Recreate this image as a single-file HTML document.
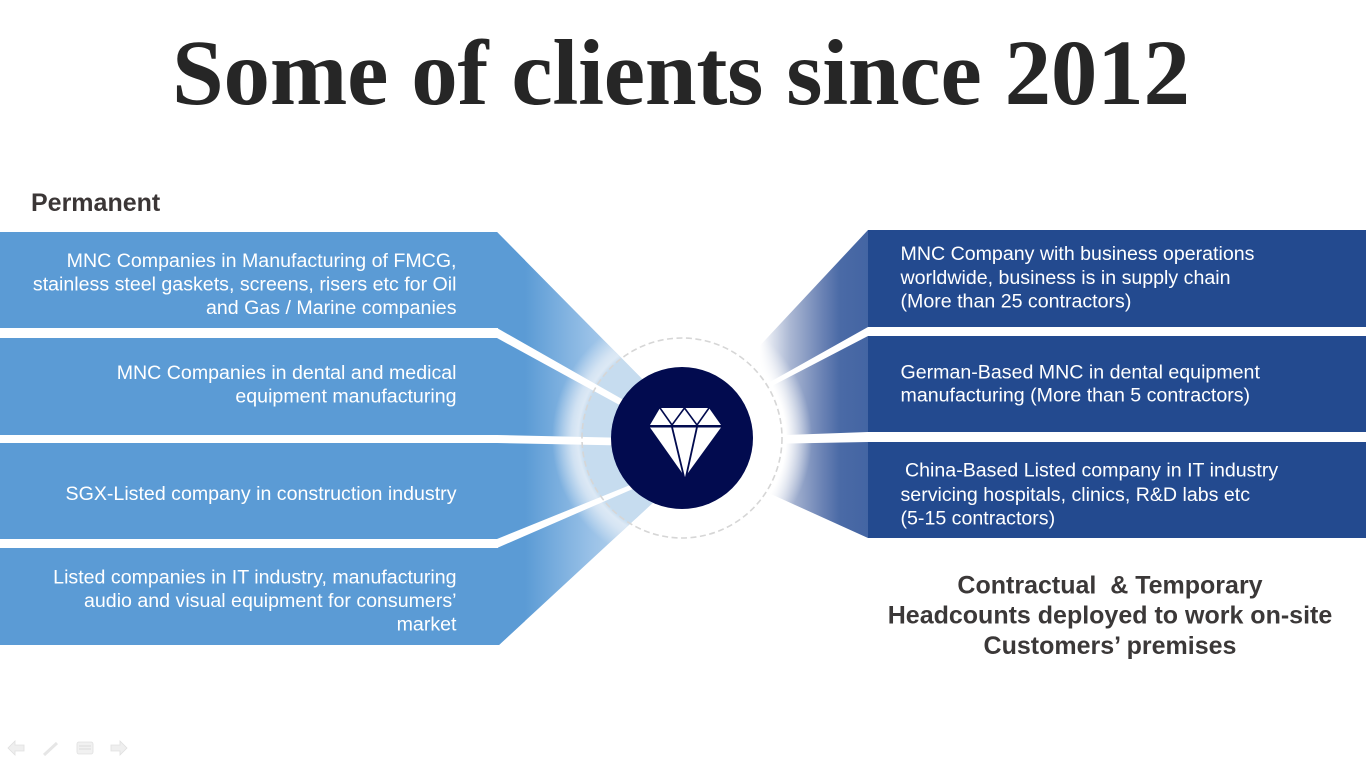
<!DOCTYPE html>
<html><head><meta charset="utf-8">
<style>
html,body{margin:0;padding:0;background:#fff;}
svg{display:block;}
</style></head><body>
<svg width="1366" height="768" viewBox="0 0 1366 768" xmlns="http://www.w3.org/2000/svg">
<defs>
 <linearGradient id="lg" gradientUnits="userSpaceOnUse" x1="525" y1="0" x2="645" y2="0">
   <stop offset="0" stop-color="#5b9bd5"/>
   <stop offset="0.55" stop-color="#99c1e7"/>
   <stop offset="1" stop-color="#c6dcef"/>
 </linearGradient>
 <linearGradient id="rg" gradientUnits="userSpaceOnUse" x1="760" y1="0" x2="868" y2="0">
   <stop offset="0" stop-color="#ffffff"/>
   <stop offset="0.28" stop-color="#aab7d3"/>
   <stop offset="0.58" stop-color="#6a82b4"/>
   <stop offset="0.74" stop-color="#4a6aa6"/>
   <stop offset="1" stop-color="#4465a3"/>
 </linearGradient>
 <radialGradient id="wg" gradientUnits="userSpaceOnUse" cx="682" cy="438" r="130">
   <stop offset="0" stop-color="#ffffff"/>
   <stop offset="0.8" stop-color="#ffffff"/>
   <stop offset="1" stop-color="#ffffff" stop-opacity="0"/>
 </radialGradient>
 <radialGradient id="bgl" gradientUnits="userSpaceOnUse" cx="682" cy="438" r="130">
   <stop offset="0" stop-color="#c6dcef"/>
   <stop offset="0.765" stop-color="#c6dcef"/>
   <stop offset="0.80" stop-color="#dde9f5"/>
   <stop offset="0.85" stop-color="#dde9f5" stop-opacity="0.85"/>
   <stop offset="1" stop-color="#dde9f5" stop-opacity="0"/>
 </radialGradient>
 <clipPath id="lc"><polygon points="0,232 497,232 660,397 690,438 670,487 499,645 0,645"/></clipPath>
</defs>

<rect width="1366" height="768" fill="#fff"/>

<!-- Title -->
<text x="172" y="104" font-family="'Liberation Serif', serif" font-weight="bold" font-size="93" fill="#262626" textLength="1018" lengthAdjust="spacing">Some of clients since 2012</text>

<!-- Permanent -->
<text x="31" y="211" font-family="'Liberation Sans', sans-serif" font-weight="bold" font-size="25" fill="#3b3636">Permanent</text>

<!-- Right fan -->
<polygon points="868,230 710,399 690,438 720,471 868,538" fill="url(#rg)"/>
<circle cx="682" cy="438" r="130" fill="url(#wg)"/>

<!-- Left fan + boxes -->
<polygon points="0,232 497,232 660,397 690,438 670,487 499,645 0,645" fill="url(#lg)"/>
<rect x="0" y="232" width="525" height="413" fill="#5b9bd5" clip-path="url(#lc)"/>
<circle cx="682" cy="438" r="130" fill="url(#bgl)" clip-path="url(#lc)"/>

<!-- Left separators -->
<g fill="#ffffff">
 <rect x="0" y="328" width="498" height="10"/>
 <polygon points="497,328 650,415 650,421.7 497,338"/>
 <rect x="0" y="435" width="498" height="8"/>
 <polygon points="497,435 650,438.5 650,446 497,443"/>
 <rect x="0" y="539" width="498" height="9"/>
 <polygon points="497,539 650,477 650,481.5 497,548"/>
</g>

<!-- Right boxes -->
<g fill="#234a8f">
 <rect x="868" y="230" width="498" height="97"/>
 <rect x="868" y="336" width="498" height="96"/>
 <rect x="868" y="442" width="498" height="96"/>
</g>
<!-- Right separators -->
<g fill="#ffffff">
 <polygon points="868,327 740,398.8 740,402.6 868,336"/>
 <polygon points="868,432 760,436 760,444 868,442"/>
</g>

<!-- Dashed ring -->
<circle cx="682" cy="438" r="100" fill="none" stroke="#d6d6d6" stroke-width="1.6" stroke-dasharray="6 3.5"/>

<!-- Navy circle -->
<circle cx="682" cy="438" r="71" fill="#020b4f"/>

<!-- Diamond -->
<polygon points="660,408 709,408 721,425 650,425" fill="#fff"/>
<polyline points="660,408 672,425 684.5,408 697,425 709,408" fill="none" stroke="#020b4f" stroke-width="1.6"/>
<polygon points="650,427.5 721,427.5 685,477" fill="#fff"/>
<line x1="672" y1="427" x2="684" y2="477" stroke="#020b4f" stroke-width="1.8"/>
<line x1="697" y1="427" x2="686" y2="477" stroke="#020b4f" stroke-width="1.8"/>

<!-- Left texts -->
<g font-family="'Liberation Sans', sans-serif" font-size="19.6" fill="#ffffff" text-anchor="end">
 <text x="456.5" y="267">MNC Companies in Manufacturing of FMCG,</text>
 <text x="456.5" y="290.5">stainless steel gaskets, screens, risers etc for Oil</text>
 <text x="456.5" y="314">and Gas / Marine companies</text>
 <text x="456.5" y="379">MNC Companies in dental and medical</text>
 <text x="456.5" y="402.5">equipment manufacturing</text>
 <text x="456.5" y="500">SGX-Listed company in construction industry</text>
 <text x="456.5" y="583.5">Listed companies in IT industry, manufacturing</text>
 <text x="456.5" y="607">audio and visual equipment for consumers’</text>
 <text x="456.5" y="630.5">market</text>
</g>

<!-- Right texts -->
<g font-family="'Liberation Sans', sans-serif" font-size="19.6" fill="#ffffff">
 <text x="900.5" y="260">MNC Company with business operations</text>
 <text x="900.5" y="284">worldwide, business is in supply chain</text>
 <text x="900.5" y="307.7">(More than 25 contractors)</text>
 <text x="900.5" y="378.3">German-Based MNC in dental equipment</text>
 <text x="900.5" y="401.7">manufacturing (More than 5 contractors)</text>
 <text x="905" y="476.7">China-Based Listed company in IT industry</text>
 <text x="900.5" y="501">servicing hospitals, clinics, R&amp;D labs etc</text>
 <text x="900.5" y="524.3">(5-15 contractors)</text>
</g>

<!-- Bottom right -->
<g font-family="'Liberation Sans', sans-serif" font-weight="bold" font-size="25" fill="#3b3838" text-anchor="middle">
 <text x="1110" y="593.3" xml:space="preserve">Contractual&#160; &amp; Temporary</text>
 <text x="1110" y="623.3">Headcounts deployed to work on-site</text>
 <text x="1110" y="654">Customers’ premises</text>
</g>

<!-- Nav icons -->
<g opacity="0.9">
 <polygon points="8,748 15,741 15,745 24,745 24,751 15,751 15,755" fill="#eeeeee" stroke="#dddddd" stroke-width="0.8"/>
 <line x1="44" y1="755" x2="57" y2="743" stroke="#e4e4e4" stroke-width="3"/>
 <rect x="77" y="742" width="16" height="12" rx="2" fill="#f0f0f0" stroke="#dddddd" stroke-width="0.8"/>
 <line x1="79" y1="746" x2="91" y2="746" stroke="#d8d8d8" stroke-width="1"/>
 <line x1="79" y1="749" x2="91" y2="749" stroke="#d8d8d8" stroke-width="1"/>
 <polygon points="127,748 120,741 120,745 111,745 111,751 120,751 120,755" fill="#eeeeee" stroke="#dddddd" stroke-width="0.8"/>
</g>
</svg>
</body></html>
